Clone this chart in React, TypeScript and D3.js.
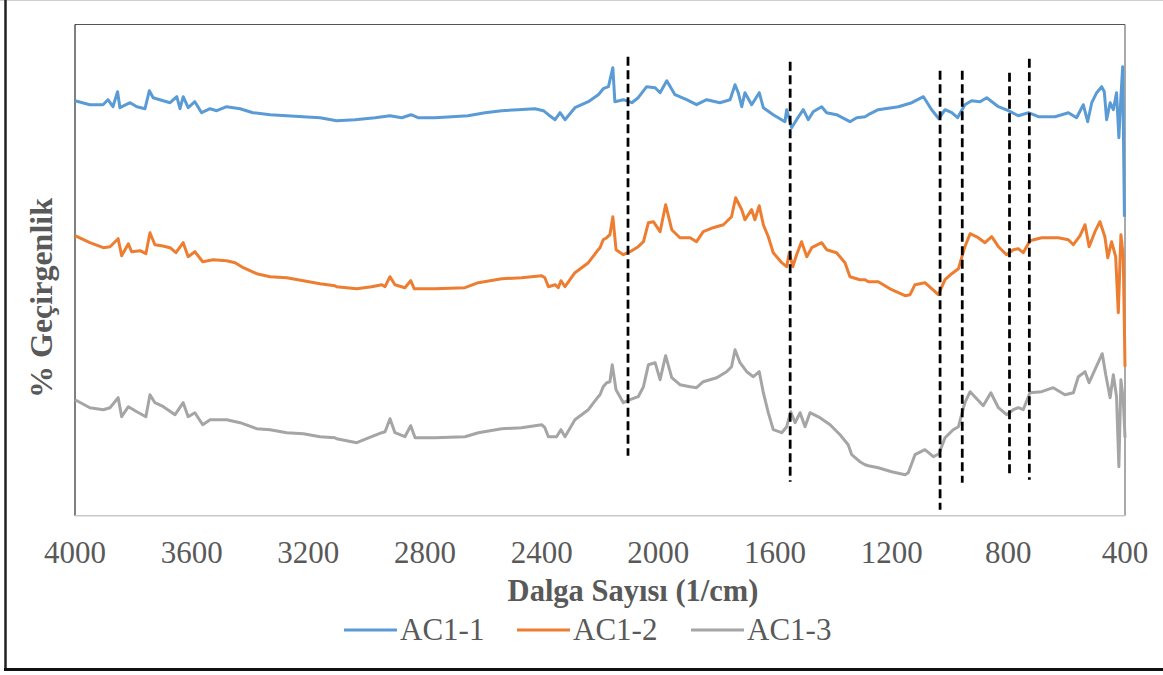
import React from "react";
import * as d3 from "d3";

// Wavenumber (1/cm) and relative transmittance (arbitrary offset units)
const ac1_1: [number, number][] = [
  [4000, 415], [3949, 411], [3904, 411], [3887, 416], [3870, 409], [3854, 424], [3846, 408],
  [3811, 413], [3788, 409], [3760, 407], [3745, 425], [3732, 418], [3709, 416], [3674, 413],
  [3651, 419], [3640, 407], [3629, 419], [3612, 408], [3589, 414], [3566, 403], [3537, 407],
  [3514, 405], [3480, 409], [3434, 407], [3390, 403], [3331, 401], [3274, 400], [3218, 399],
  [3160, 398], [3103, 395], [3040, 396], [2971, 398], [2920, 400], [2880, 398], [2848, 401],
  [2824, 398], [2766, 398], [2708, 399], [2653, 400], [2594, 403], [2537, 405], [2481, 406],
  [2423, 407], [2394, 405], [2377, 401], [2354, 396], [2337, 403], [2320, 396], [2286, 408],
  [2240, 414], [2206, 421], [2200, 423], [2189, 427], [2171, 429], [2156, 448], [2149, 414],
  [2120, 416], [2091, 413], [2069, 418], [2040, 429], [2011, 428], [1994, 423], [1971, 435],
  [1943, 421], [1903, 416], [1869, 411], [1834, 416], [1789, 413], [1754, 416], [1737, 431],
  [1726, 423], [1714, 409], [1703, 423], [1680, 411], [1654, 423], [1640, 408], [1606, 401],
  [1566, 394], [1560, 406], [1543, 388], [1526, 396], [1503, 406], [1486, 396], [1469, 404],
  [1440, 409], [1423, 403], [1389, 401], [1343, 394], [1320, 398], [1291, 399], [1280, 401],
  [1246, 406], [1177, 409], [1131, 413], [1091, 419], [1063, 406], [1038, 397], [1017, 406],
  [994, 403], [974, 398], [949, 411], [926, 415], [897, 414], [874, 418], [834, 409],
  [800, 405], [766, 400], [731, 403], [697, 399], [640, 399], [594, 403], [566, 398],
  [543, 411], [528, 394], [514, 413], [497, 423], [480, 429], [471, 424], [463, 396],
  [451, 413], [440, 406], [429, 423], [421, 378], [414, 419], [408, 449], [402, 299],
];

const ac1_2: [number, number][] = [
  [4000, 280], [3949, 273], [3903, 268], [3880, 269], [3852, 277], [3840, 260], [3817, 272],
  [3806, 264], [3777, 265], [3757, 262], [3743, 283], [3726, 271], [3703, 270], [3674, 268],
  [3654, 263], [3629, 273], [3612, 259], [3589, 264], [3562, 254], [3526, 256], [3480, 255],
  [3451, 253], [3423, 248], [3377, 242], [3331, 239], [3274, 238], [3217, 235], [3160, 232],
  [3109, 230], [3103, 229], [3034, 227], [2983, 229], [2948, 231], [2937, 229], [2920, 239],
  [2903, 231], [2869, 228], [2849, 235], [2837, 227], [2766, 227], [2663, 228], [2617, 233],
  [2537, 237], [2469, 238], [2400, 240], [2389, 238], [2377, 229], [2354, 231], [2343, 228],
  [2334, 235], [2320, 229], [2286, 243], [2240, 253], [2206, 266], [2200, 268], [2189, 276],
  [2177, 278], [2166, 281], [2156, 299], [2145, 266], [2120, 261], [2097, 264], [2069, 269],
  [2051, 274], [2034, 293], [2017, 294], [1994, 284], [1975, 311], [1954, 286], [1926, 278],
  [1891, 278], [1869, 274], [1846, 284], [1812, 288], [1777, 291], [1749, 299], [1735, 318],
  [1714, 306], [1703, 296], [1680, 306], [1669, 296], [1654, 310], [1640, 291], [1623, 279],
  [1606, 263], [1577, 253], [1560, 249], [1551, 263], [1539, 249], [1526, 261], [1509, 274],
  [1491, 259], [1474, 268], [1440, 273], [1423, 266], [1389, 263], [1360, 253], [1343, 239],
  [1309, 236], [1291, 236], [1280, 234], [1246, 234], [1200, 226], [1154, 220], [1137, 221],
  [1120, 231], [1086, 233], [1063, 227], [1040, 221], [1017, 236], [994, 242], [971, 247],
  [949, 269], [931, 282], [903, 278], [880, 273], [857, 279], [834, 269], [806, 261],
  [783, 266], [766, 267], [749, 263], [726, 275], [686, 278], [629, 278], [594, 276],
  [577, 271], [554, 280], [537, 291], [523, 269], [503, 284], [486, 294], [469, 279],
  [459, 258], [446, 274], [432, 259], [423, 203], [414, 281], [406, 259], [400, 149],
];

const ac1_3: [number, number][] = [
  [4000, 116], [3949, 108], [3903, 106], [3880, 108], [3852, 118], [3840, 99], [3817, 109],
  [3788, 104], [3757, 99], [3743, 121], [3726, 113], [3697, 109], [3657, 101], [3629, 113],
  [3612, 99], [3589, 103], [3562, 91], [3537, 96], [3480, 96], [3434, 93], [3377, 87],
  [3331, 86], [3274, 83], [3217, 82], [3160, 79], [3109, 78], [3103, 77], [3034, 73],
  [2983, 79], [2948, 83], [2937, 84], [2920, 97], [2903, 83], [2869, 79], [2849, 90],
  [2834, 78], [2766, 78], [2663, 79], [2617, 83], [2537, 87], [2469, 88], [2400, 91],
  [2389, 88], [2377, 79], [2349, 79], [2334, 86], [2320, 79], [2286, 96], [2240, 106],
  [2206, 119], [2200, 121], [2189, 129], [2177, 133], [2166, 134], [2158, 151], [2145, 126],
  [2120, 113], [2097, 116], [2069, 119], [2051, 129], [2034, 151], [2011, 153], [1994, 136],
  [1975, 160], [1954, 138], [1926, 131], [1891, 129], [1869, 128], [1846, 134], [1800, 138],
  [1766, 144], [1749, 149], [1737, 166], [1720, 153], [1697, 144], [1674, 139], [1654, 144],
  [1640, 123], [1623, 103], [1606, 86], [1577, 83], [1560, 89], [1546, 104], [1531, 93],
  [1514, 103], [1497, 89], [1480, 103], [1446, 98], [1411, 91], [1377, 81], [1349, 71],
  [1337, 61], [1309, 54], [1291, 51], [1280, 50], [1246, 48], [1200, 44], [1154, 41],
  [1143, 43], [1120, 61], [1086, 66], [1057, 59], [1038, 62], [1017, 78], [989, 86],
  [971, 89], [949, 113], [931, 124], [886, 110], [860, 123], [834, 108], [806, 101],
  [783, 106], [766, 108], [749, 106], [726, 123], [686, 124], [646, 128], [606, 121],
  [577, 123], [560, 139], [537, 144], [523, 133], [503, 146], [478, 162], [466, 141],
  [451, 118], [440, 141], [429, 119], [421, 49], [414, 136], [406, 116], [400, 78],
];

const seriesNames = ["AC1-1", "AC1-2", "AC1-3"];
const seriesColors = ["#5B9BD5", "#ED7D31", "#A5A5A5"];
const seriesData = [ac1_1, ac1_2, ac1_3];

const xTicks = [4000, 3600, 3200, 2800, 2400, 2000, 1600, 1200, 800, 400];

// marker lines: wavenumber, top value, bottom value
const markerWave = [2104, 1548, 1034, 958, 796, 728];
const markerTop = [459, 454, 445, 445, 443, 457];
const markerBottom = [60, 34, 6, 33, 41, 36];

const W = 1163;
const H = 675;
const plot = { left: 75, right: 1125, top: 24.5, bottom: 515.7 };

export default function App() {
  const x = d3.scaleLinear().domain([4000, 400]).range([plot.left, plot.right]);
  const y = d3.scaleLinear().domain([0, 491.2]).range([plot.bottom, plot.top]);
  const line = d3
    .line<[number, number]>()
    .x((d) => x(d[0]))
    .y((d) => y(d[1]));

  const font = "'Liberation Serif', 'Times New Roman', serif";
  const textColor = "#595959";

  const legendLineX = [344, 517, 691];

  return (
    <svg
      width={W}
      height={H}
      style={{ position: "absolute", left: 0, top: 0, background: "#fff" }}
      fontFamily={font}
    >
      <rect x={0} y={0} width={W} height={H} fill="#fff" />
      {/* outer frame */}
      <line x1={0} x2={W} y1={0.5} y2={0.5} stroke="#d0d0d0" strokeWidth={1} />
      <line x1={5.5} x2={5.5} y1={0} y2={671} stroke="#222" strokeWidth={2.5} />
      <line x1={4} x2={W} y1={669.5} y2={669.5} stroke="#111" strokeWidth={3} />

      {/* plot frame */}
      <line x1={plot.left} x2={plot.right} y1={plot.top} y2={plot.top} stroke="#555" strokeWidth={1} />
      <line x1={plot.right} x2={plot.right} y1={plot.top} y2={plot.bottom} stroke="#555" strokeWidth={1} />
      <line x1={plot.left} x2={plot.left} y1={plot.top} y2={plot.bottom} stroke="#000" strokeWidth={1} />

      {/* series */}
      {seriesData.map((d, i) => (
        <path
          key={seriesNames[i]}
          d={line(d) || ""}
          fill="none"
          stroke={seriesColors[i]}
          strokeWidth={3}
          strokeLinejoin="round"
        />
      ))}

      {/* bottom axis line */}
      <line x1={plot.left} x2={plot.right} y1={plot.bottom} y2={plot.bottom} stroke="#c8c8c8" strokeWidth={1.5} />

      {/* dashed markers */}
      {markerWave.map((w, i) => (
        <line
          key={w}
          x1={x(w)}
          x2={x(w)}
          y1={y(markerTop[i])}
          y2={y(markerBottom[i])}
          stroke="#000"
          strokeWidth={2.75}
          strokeDasharray="9,4.5"
        />
      ))}

      {/* x tick labels */}
      {xTicks.map((t) => (
        <text key={t} x={x(t)} y={563} textAnchor="middle" fontSize={31} fill={textColor}>
          {t}
        </text>
      ))}

      {/* axis titles */}
      <text x={633} y={601} textAnchor="middle" fontSize={30.5} fontWeight="bold" fill={textColor}>
        Dalga Sayısı (1/cm)
      </text>
      <text
        transform="translate(52,298) rotate(-90)"
        textAnchor="middle"
        fontSize={32}
        fontWeight="bold"
        fill={textColor}
      >
        % Geçirgenlik
      </text>

      {/* legend */}
      {seriesNames.map((n, i) => (
        <g key={n}>
          <line x1={legendLineX[i]} x2={legendLineX[i] + 53} y1={630} y2={630} stroke={seriesColors[i]} strokeWidth={3} />
          <text x={legendLineX[i] + 56} y={640} fontSize={31} fill={textColor}>
            {n}
          </text>
        </g>
      ))}
    </svg>
  );
}
